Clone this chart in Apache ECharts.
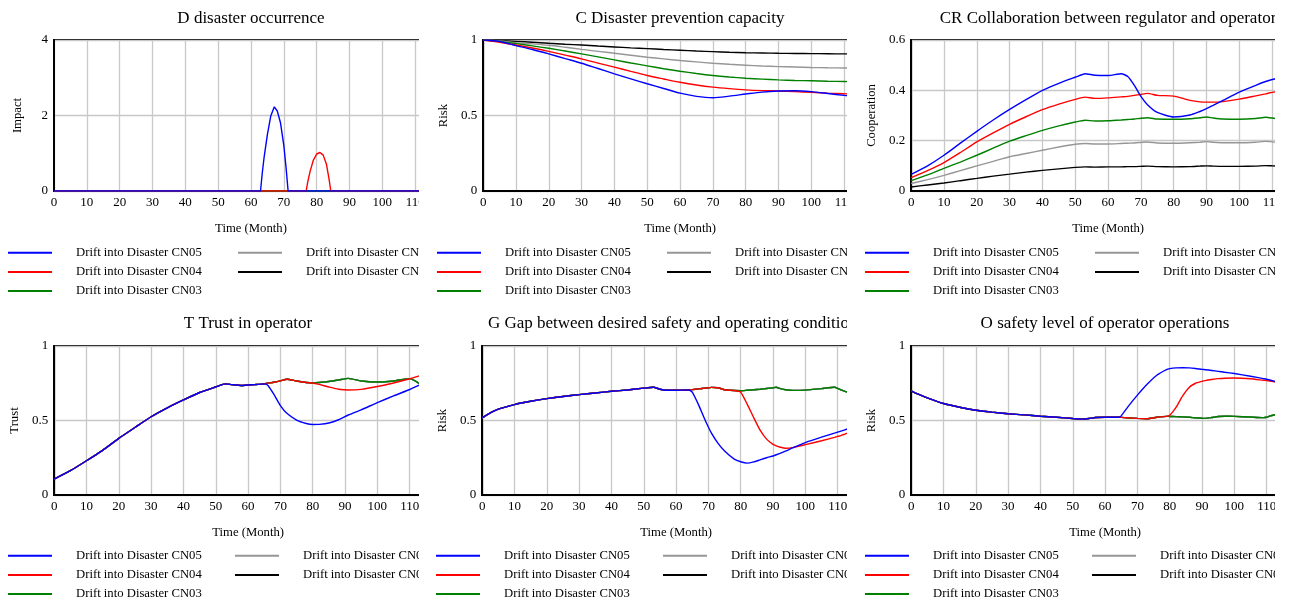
<!DOCTYPE html>
<html><head><meta charset="utf-8">
<script src="https://cdn.jsdelivr.net/npm/echarts@6/dist/echarts.min.js"></script>
<style>
html,body{margin:0;padding:0;background:#fff;width:1292px;height:601px;overflow:hidden}
.clip{position:absolute;overflow:hidden}
</style></head><body>
<div class="clip" style="left:0px;top:0px;width:419px;height:304px"><div id="c0" style="width:502px;height:330px"></div></div>
<div class="clip" style="left:429px;top:0px;width:418px;height:304px"><div id="c1" style="width:502px;height:330px"></div></div>
<div class="clip" style="left:857px;top:0px;width:418px;height:304px"><div id="c2" style="width:502px;height:330px"></div></div>
<div class="clip" style="left:0px;top:304px;width:419px;height:297px"><div id="c3" style="width:496px;height:330px"></div></div>
<div class="clip" style="left:428px;top:304px;width:419px;height:297px"><div id="c4" style="width:496px;height:330px"></div></div>
<div class="clip" style="left:857px;top:304px;width:418px;height:297px"><div id="c5" style="width:496px;height:330px"></div></div>
<script>
// ---------- series names ----------
const NAMES = ['Drift into Disaster CN05','Drift into Disaster CN04','Drift into Disaster CN03','Drift into Disaster CN02','Drift into Disaster CN01'];
const X_AXIS_NAME = 'Time (Month)';

// ---------- D disaster occurrence ----------
const tD_blue = [0, 62.9, 63.4, 64, 65, 66, 67.1, 68, 69, 70, 70.7, 71.3, 113];
const D_blue  = [0, 0, 0.45, 0.9, 1.5, 1.98, 2.23, 2.12, 1.8, 1.2, 0.6, 0, 0];
const tD_red  = [0, 76.8, 77.3, 78, 79, 80, 81, 82, 83, 83.8, 84.3, 113];
const D_red   = [0, 0, 0.25, 0.52, 0.82, 0.98, 1.02, 0.95, 0.7, 0.3, 0, 0];
const tD_flat = [0, 113];
const D_flat  = [0, 0];

// ---------- C Disaster prevention capacity ----------
const tC = [0,5,10,15,20,25,30,35,40,45,50,55,60,65,70,75,80,85,90,95,100,105,110,113];
const C_blue  = [1,0.99,0.963,0.937,0.908,0.877,0.846,0.811,0.776,0.743,0.71,0.679,0.648,0.627,0.618,0.628,0.642,0.655,0.662,0.664,0.658,0.646,0.633,0.626];
const C_red   = [1,0.985,0.967,0.947,0.925,0.9,0.875,0.847,0.82,0.792,0.765,0.742,0.72,0.702,0.688,0.678,0.67,0.665,0.662,0.658,0.653,0.648,0.644,0.642];
const C_green = [1,0.99,0.976,0.961,0.945,0.927,0.908,0.888,0.868,0.848,0.829,0.81,0.793,0.778,0.765,0.755,0.747,0.741,0.736,0.732,0.73,0.727,0.725,0.724];
const C_grey  = [1,0.993,0.982,0.974,0.965,0.952,0.938,0.925,0.912,0.899,0.886,0.875,0.864,0.855,0.846,0.839,0.833,0.828,0.824,0.821,0.818,0.816,0.815,0.814];
const C_black = [1,0.996,0.991,0.985,0.978,0.972,0.967,0.96,0.954,0.948,0.943,0.937,0.932,0.927,0.923,0.919,0.916,0.914,0.912,0.911,0.91,0.909,0.908,0.908];

// ---------- CR Collaboration between regulator and operator ----------
const tCR = [0,5,10,15,20,25,30,35,40,45,50,53,56,60,64,66,68,70,72,75,80,85,88,90,92,95,100,105,108,110,113];
const CR_blue  = [0.066,0.1,0.142,0.19,0.237,0.282,0.324,0.363,0.40,0.428,0.452,0.466,0.46,0.459,0.466,0.455,0.42,0.376,0.343,0.312,0.294,0.302,0.316,0.327,0.34,0.36,0.393,0.42,0.435,0.443,0.452];
const CR_red   = [0.053,0.081,0.113,0.153,0.195,0.231,0.265,0.295,0.323,0.345,0.364,0.373,0.368,0.37,0.374,0.376,0.38,0.384,0.388,0.38,0.377,0.36,0.354,0.353,0.353,0.355,0.365,0.378,0.386,0.392,0.398];
const CR_green = [0.041,0.064,0.09,0.115,0.142,0.17,0.198,0.22,0.241,0.259,0.274,0.281,0.278,0.279,0.282,0.284,0.286,0.289,0.291,0.286,0.285,0.287,0.291,0.294,0.29,0.286,0.285,0.288,0.293,0.29,0.284];
const CR_grey  = [0.030,0.045,0.062,0.081,0.10,0.118,0.136,0.149,0.162,0.175,0.186,0.189,0.187,0.187,0.189,0.19,0.191,0.193,0.195,0.191,0.19,0.192,0.194,0.196,0.194,0.192,0.192,0.194,0.197,0.195,0.191];
const CR_black = [0.016,0.024,0.032,0.041,0.05,0.059,0.067,0.075,0.082,0.088,0.094,0.096,0.095,0.096,0.096,0.097,0.097,0.098,0.099,0.097,0.096,0.097,0.099,0.1,0.099,0.098,0.098,0.099,0.101,0.1,0.098];

// ---------- T Trust in operator ----------
const tT = [0,5,10,15,20,25,30,35,40,45,50,53,55,58,62,65,66,68,70,72,75,78,80,82,85,88,91,95,100,105,110,113];
const T_blue  = [0.107,0.163,0.23,0.30,0.38,0.453,0.525,0.585,0.638,0.688,0.725,0.746,0.741,0.735,0.741,0.746,0.738,0.675,0.6,0.548,0.503,0.48,0.473,0.474,0.483,0.505,0.537,0.572,0.62,0.665,0.708,0.737];
const T_red   = [0.107,0.163,0.23,0.30,0.38,0.453,0.525,0.585,0.638,0.688,0.725,0.746,0.741,0.735,0.741,0.746,0.75,0.757,0.766,0.777,0.765,0.755,0.752,0.742,0.725,0.71,0.705,0.709,0.728,0.752,0.78,0.80];
const T_green = [0.107,0.163,0.23,0.30,0.38,0.453,0.525,0.585,0.638,0.688,0.725,0.746,0.741,0.735,0.741,0.746,0.75,0.757,0.766,0.777,0.765,0.755,0.752,0.755,0.762,0.772,0.783,0.765,0.758,0.765,0.781,0.748];

// ---------- G Gap between desired safety and operating conditions ----------
const tG = [0,2,5,10,15,20,25,30,35,40,45,50,53,55,57,60,64,65,67,69,71,73,75,78,80,82,84,86,88,90,91,92,94,96,100,105,109,110,111,113];
const G_blue  = [0.518,0.545,0.576,0.607,0.629,0.647,0.661,0.674,0.685,0.696,0.705,0.717,0.723,0.71,0.703,0.703,0.705,0.69,0.603,0.502,0.413,0.346,0.295,0.241,0.223,0.214,0.222,0.236,0.25,0.262,0.27,0.278,0.296,0.316,0.352,0.388,0.415,0.422,0.429,0.443];
const G_red   = [0.518,0.545,0.576,0.607,0.629,0.647,0.661,0.674,0.685,0.696,0.705,0.717,0.723,0.71,0.703,0.703,0.705,0.707,0.712,0.717,0.722,0.72,0.706,0.701,0.69,0.61,0.52,0.435,0.375,0.34,0.33,0.322,0.314,0.318,0.338,0.364,0.387,0.393,0.399,0.415];
const G_green = [0.518,0.545,0.576,0.607,0.629,0.647,0.661,0.674,0.685,0.696,0.705,0.717,0.723,0.71,0.703,0.703,0.705,0.707,0.712,0.717,0.722,0.72,0.706,0.701,0.70,0.703,0.706,0.71,0.715,0.72,0.723,0.716,0.706,0.702,0.704,0.714,0.723,0.716,0.706,0.69];

// ---------- O safety level of operator operations ----------
const tO = [0,2,5,10,15,20,25,30,35,40,45,50,53,55,57,60,64,65,67,70,73,76,79,80,82,84,86,88,90,91,93,95,97,100,105,109,110,111,113];
const O_blue  = [0.699,0.678,0.652,0.614,0.589,0.569,0.556,0.545,0.538,0.529,0.522,0.513,0.509,0.513,0.52,0.522,0.522,0.531,0.59,0.67,0.743,0.804,0.842,0.848,0.853,0.854,0.853,0.849,0.843,0.841,0.836,0.83,0.824,0.815,0.797,0.781,0.777,0.772,0.76];
const O_red   = [0.699,0.678,0.652,0.614,0.589,0.569,0.556,0.545,0.538,0.529,0.522,0.513,0.509,0.513,0.52,0.522,0.522,0.521,0.518,0.514,0.512,0.522,0.528,0.535,0.59,0.665,0.722,0.75,0.763,0.768,0.775,0.781,0.784,0.785,0.78,0.77,0.768,0.765,0.758];
const O_green = [0.699,0.678,0.652,0.614,0.589,0.569,0.556,0.545,0.538,0.529,0.522,0.513,0.509,0.513,0.52,0.522,0.522,0.521,0.518,0.514,0.512,0.522,0.528,0.527,0.526,0.524,0.522,0.518,0.515,0.514,0.52,0.527,0.529,0.528,0.523,0.519,0.522,0.53,0.54];

// ---------- panels ----------
const PANELS = [
  {id:'c0', row:0, title:'D disaster occurrence', yName:'Impact', yMax:4, yInt:2, smooth:false,
   t:[tD_blue,tD_red,tD_flat,tD_flat,tD_flat], v:[D_blue,D_red,D_flat,D_flat,D_flat]},
  {id:'c1', row:0, title:'C Disaster prevention capacity', yName:'Risk', yMax:1, yInt:0.5, smooth:0.3,
   t:[tC,tC,tC,tC,tC], v:[C_blue,C_red,C_green,C_grey,C_black]},
  {id:'c2', row:0, title:'CR Collaboration between regulator and operator', yName:'Cooperation', yMax:0.6, yInt:0.2, smooth:0.2,
   t:[tCR,tCR,tCR,tCR,tCR], v:[CR_blue,CR_red,CR_green,CR_grey,CR_black]},
  {id:'c3', row:1, title:'T Trust in operator', yName:'Trust', yMax:1, yInt:0.5, smooth:0.2,
   t:[tT,tT,tT,tT,tT], v:[T_blue,T_red,T_green,T_green,T_green]},
  {id:'c4', row:1, title:'G Gap between desired safety and operating conditions', yName:'Risk', yMax:1, yInt:0.5, smooth:0.15,
   t:[tG,tG,tG,tG,tG], v:[G_blue,G_red,G_green,G_green,G_green]},
  {id:'c5', row:1, title:'O safety level of operator operations', yName:'Risk', yMax:1, yInt:0.5, smooth:0.15,
   t:[tO,tO,tO,tO,tO], v:[O_blue,O_red,O_green,O_green,O_green]}
];

// ---------- styling ----------
const COLORS = ['#0000ff','#ff0000','#008000','#969696','#000000'];
const FONT = '"Liberation Serif","Times New Roman",serif';
const ROWS = [
  {titleTop:8.5, gridTop:40, gridH:151, legendTop:245.7, col2:238},
  {titleTop:10, gridTop:42, gridH:149, legendTop:244.7, col2:235}
];
const LEGEND_ICON = 'path://M0,0H44V2H0Z';

function legendBlock(left, top, names){
  return {orient:'vertical', left:left, top:top, padding:0, itemWidth:44, itemHeight:14, itemGap:5.2,
    selectedMode:false, data:names, icon:LEGEND_ICON, symbolKeepAspect:true,
    textStyle:{fontFamily:FONT, fontSize:12.7, color:'#000', lineHeight:14, padding:[0,0,0,19]}};
}

PANELS.forEach(p => {
  const r = ROWS[p.row];
  const chart = echarts.init(document.getElementById(p.id), null, {renderer:'canvas'});
  const series = [];
  [4,3,2,1,0].forEach((k, j) => {
    series.push({
      name:NAMES[k], type:'line', symbol:'none', showSymbol:false, smooth:p.smooth,
      data:p.t[k].map((t,i)=>[t,p.v[k][i]]),
      z:3 + j,
      lineStyle:{width:1.4, color:COLORS[k]}, itemStyle:{color:COLORS[k]},
      animation:false, silent:true
    });
  });
  chart.setOption({
    animation:false,
    title:{text:p.title, left:'center', top:r.titleTop, padding:0,
      textStyle:{fontFamily:FONT, fontSize:17, fontWeight:'normal', color:'#000', lineHeight:20}},
    grid:{left:54, right:54, top:r.gridTop, height:r.gridH, show:true, borderColor:'#000', borderWidth:2, containLabel:false},
    legend:[legendBlock(8, r.legendTop, [NAMES[0],NAMES[1],NAMES[2]]),
            legendBlock(r.col2, r.legendTop, [NAMES[3],NAMES[4]])],
    xAxis:{type:'value', min:0, max:120, interval:10,
      name:X_AXIS_NAME, nameLocation:'middle', nameGap:31,
      nameTextStyle:{fontFamily:FONT, fontSize:12.7, color:'#000'},
      axisLine:{show:true, lineStyle:{color:'#000', width:2}}, axisTick:{show:false},
      axisLabel:{fontFamily:FONT, fontSize:13, color:'#000', margin:5},
      splitLine:{show:true, lineStyle:{color:'#c8c8c8', width:1.3}}},
    yAxis:{type:'value', min:0, max:p.yMax, interval:p.yInt,
      name:p.yName, nameLocation:'middle', nameRotate:90, nameGap:30,
      nameTextStyle:{fontFamily:FONT, fontSize:12.7, color:'#000'},
      axisLine:{show:true, lineStyle:{color:'#000', width:2}}, axisTick:{show:false},
      axisLabel:{fontFamily:FONT, fontSize:13, color:'#000', margin:6},
      splitLine:{show:true, lineStyle:{color:'#c8c8c8', width:1.3}}},
    series:series
  });
});
</script>
</body></html>
